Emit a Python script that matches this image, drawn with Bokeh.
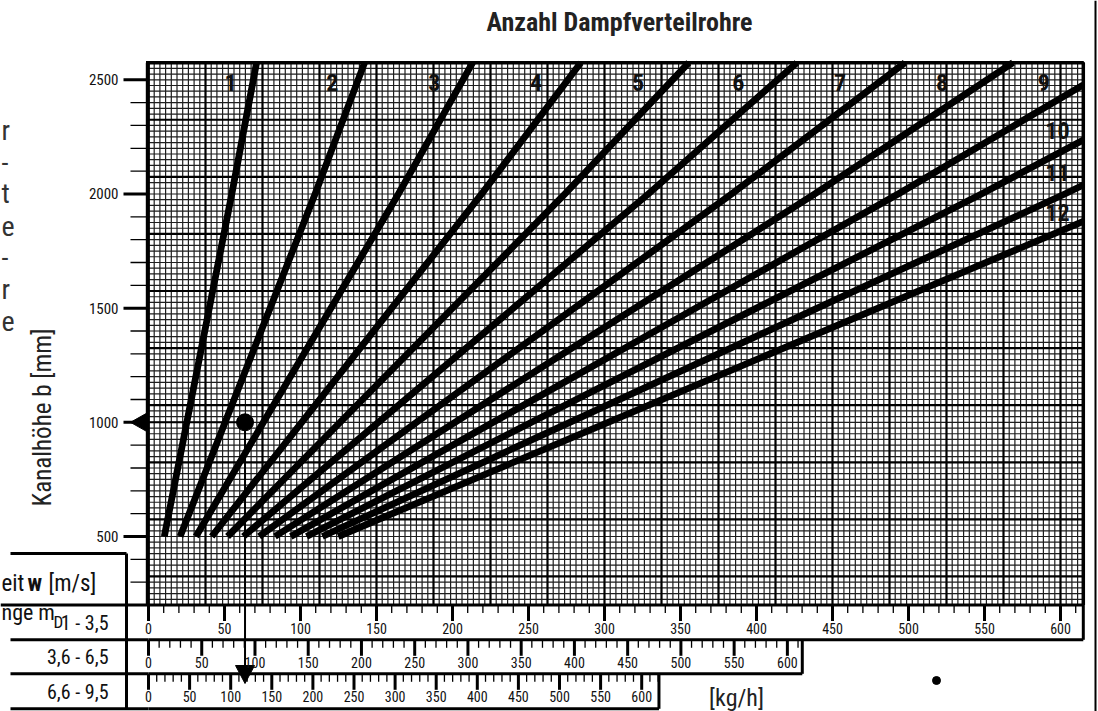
import numpy as np
from bokeh.plotting import figure
from bokeh.models import Range1d
from bokeh.core.properties import value
from bokeh.embed import file_html
from bokeh.resources import INLINE

# ---------------- data ----------------
title_text = "Anzahl Dampfverteilrohre"
y_axis_title = "Kanalhöhe b [mm]"
unit_text = "[kg/h]"
row_labels = ["1 - 3,5", "3,6 - 6,5", "6,6 - 9,5"]
curve_names = ["1", "2", "3", "4", "5", "6", "7", "8", "9", "10", "11", "12"]

# channel height b [mm] at which the steam mass of each curve was read
b_mm = [500, 1000, 1500, 2000, 2600]
# steam mass m_D [kg/h] (scale 1 - 3,5 m/s) per number of distributor pipes
m_1 = [10.4, 25.2, 40.0, 54.8, 71.8]
m_2 = [20.8, 50.4, 80.0, 109.6, 143.6]
m_3 = [31.2, 75.6, 120.0, 164.4, 215.4]
m_4 = [41.6, 100.8, 160.0, 219.2, 287.2]
m_5 = [52.0, 126.0, 200.0, 274.0, 359.0]
m_6 = [62.4, 151.2, 240.0, 328.8, 430.8]
m_7 = [72.8, 176.4, 280.0, 383.6, 502.6]
m_8 = [83.2, 201.6, 320.0, 438.4, 574.4]
m_9 = [93.6, 226.8, 360.0, 493.2, 646.2]
m_10 = [104.0, 252.0, 400.0, 548.0, 718.0]
m_11 = [114.4, 277.2, 440.0, 602.8, 789.8]
m_12 = [124.8, 302.4, 480.0, 657.6, 861.6]
curves_m = [m_1, m_2, m_3, m_4, m_5, m_6, m_7, m_8, m_9, m_10, m_11, m_12]

y_ticks_major = [500, 1000, 1500, 2000, 2500]
y_ticks_minor = [300, 400, 600, 700, 800, 900, 1100, 1200, 1300, 1400, 1600, 1700,
                 1800, 1900, 2100, 2200, 2300, 2400]
scale_major = [0, 50, 100, 150, 200, 250, 300, 350, 400, 450, 500, 550, 600]
scale_minor_step = 10
scale_end = [615, 614, 621]          # end of each ruler in its own kg/h units

example_b = 1000     # example duct height
example_m = 63.5     # example steam mass on the 1 - 3,5 scale

# ---------------- layout helpers (screen px -> data) ----------------
PX_PER_U1 = 1.52      # ruler 1 - 3,5
PX_PER_U2 = 1.0648    # ruler 3,6 - 6,5
PX_PER_U3 = 0.822     # ruler 6,6 - 9,5
X0 = 148.0
PX_PER_MM = 0.22835
Y500 = 536.0

def ux(px):
    return (px - X0) / PX_PER_U1

def by(py):
    return 500.0 - (py - Y500) / PX_PER_MM

W, H = 1098, 711
FONT = "Roboto Condensed"

p = figure(width=W, height=H, x_range=Range1d(ux(0), ux(W)), y_range=Range1d(by(H), by(0)),
           output_backend="svg", toolbar_location=None, min_border=0,
           x_axis_location=None, y_axis_location=None, outline_line_color=None,
           background_fill_color="white", border_fill_color="white")
p.extra_x_ranges = {
    "r2": Range1d((0 - X0) / PX_PER_U2, (W - X0) / PX_PER_U2),
    "r3": Range1d((0 - X0) / PX_PER_U3, (W - X0) / PX_PER_U3),
}
for g in p.grid:
    g.visible = False

# ---------------- millimetre paper grid ----------------
GX_MAX = 615.0
GY_MIN, GY_MAX = 200.0, 2575.0
gx = np.arange(0, GX_MAX + 0.01, 3.75)
gy = np.arange(GY_MIN, GY_MAX + 0.01, 25.0)
gx_minor = [v for i, v in enumerate(gx) if i % 10 != 0]
gx_major = [v for i, v in enumerate(gx) if i % 10 == 0]
gy_minor = [v for v in gy if abs(((GY_MAX - v) / 250.0) - round((GY_MAX - v) / 250.0)) > 1e-6]
gy_major = [v for v in gy if abs(((GY_MAX - v) / 250.0) - round((GY_MAX - v) / 250.0)) <= 1e-6]

p.segment(x0=gx_minor, y0=[GY_MIN] * len(gx_minor), x1=gx_minor, y1=[GY_MAX] * len(gx_minor),
          line_color="#1e1e1e", line_width=1.2)
p.segment(x0=[0] * len(gy_minor), y0=gy_minor, x1=[GX_MAX] * len(gy_minor), y1=gy_minor,
          line_color="#1e1e1e", line_width=1.2)
p.segment(x0=gx_major, y0=[GY_MIN] * len(gx_major), x1=gx_major, y1=[GY_MAX] * len(gx_major),
          line_color="black", line_width=2.2)
p.segment(x0=[0] * len(gy_major), y0=gy_major, x1=[GX_MAX] * len(gy_major), y1=gy_major,
          line_color="black", line_width=2.2)

# ---------------- curves ----------------
def clip_curve(ms, bs, umax, bmax):
    xs, ys = [ms[0]], [bs[0]]
    for i in range(1, len(ms)):
        m1, b1 = ms[i], bs[i]
        if m1 <= umax and b1 <= bmax:
            xs.append(m1)
            ys.append(b1)
            continue
        m0, b0 = xs[-1], ys[-1]
        t = 1.0
        if m1 > umax:
            t = min(t, (umax - m0) / (m1 - m0))
        if b1 > bmax:
            t = min(t, (bmax - b0) / (b1 - b0))
        xs.append(m0 + t * (m1 - m0))
        ys.append(b0 + t * (b1 - b0))
        break
    return xs, ys

for ms in curves_m:
    xs, ys = clip_curve(ms, b_mm, GX_MAX, GY_MAX)
    p.line(xs, ys, line_color="black", line_width=6.8, line_cap="butt", line_join="round")

# curve numbers
label_m = [54, 121, 188, 255, 322, 388, 455, 522, 589, 598, 598, 598]
label_b = [2490] * 9 + [2278, 2095, 1920]
p.text(x=label_m, y=label_b, text=curve_names, text_font=value(FONT), text_font_size="24px",
       text_font_style="bold", text_align="center", text_baseline="middle", text_color="#111")

# plot border
p.line([ux(147.3)] * 2, [GY_MIN, GY_MAX], line_color="black", line_width=4)
p.line([ux(145.5), GX_MAX, GX_MAX], [GY_MAX, GY_MAX, GY_MIN], line_color="black", line_width=3.5)

# ---------------- y axis ticks and labels ----------------
p.segment(x0=[ux(123)] * len(y_ticks_major), y0=y_ticks_major,
          x1=[ux(146)] * len(y_ticks_major), y1=y_ticks_major, line_color="black", line_width=3)
p.segment(x0=[ux(130)] * len(y_ticks_minor), y0=y_ticks_minor,
          x1=[ux(146)] * len(y_ticks_minor), y1=y_ticks_minor, line_color="black", line_width=1.3)
p.text(x=[ux(118)] * len(y_ticks_major), y=y_ticks_major, text=[str(v) for v in y_ticks_major],
       text_font=value(FONT), text_font_size="15px", text_align="right", text_baseline="middle",
       text_color="#111")
p.text(x=[ux(42)], y=[by(417)], text=[y_axis_title], angle=np.pi / 2, text_font=value(FONT),
       text_font_size="25px", text_align="center", text_baseline="middle", text_color="#222")

# ---------------- example reading ----------------
p.line([ux(134), example_m], [example_b, example_b], line_color="black", line_width=2)
p.patch([ux(130), ux(146), ux(146)], [example_b, example_b + 9 / PX_PER_MM, example_b - 9 / PX_PER_MM],
        color="black")
p.line([example_m, example_m], [example_b, by(668)], line_color="black", line_width=2)
p.patch([example_m - 9.5 / PX_PER_U1, example_m + 9.5 / PX_PER_U1, example_m],
        [by(665), by(665), by(683)], color="black")
p.scatter([example_m], [example_b], size=17, color="black")

# ---------------- scale rows ----------------
row_tops = [604.5, 639.3, 673.3]
row_bottoms = [639.3, 673.3, 708.3]
range_names = ["default", "r2", "r3"]
for k in range(3):
    rn = range_names[k]
    top, bot = by(row_tops[k]), by(row_bottoms[k])
    minors = [v for v in range(0, scale_end[k], scale_minor_step) if v % 50 != 0]
    p.segment(x0=minors, y0=[top] * len(minors), x1=minors, y1=[by(row_tops[k] + 8)] * len(minors),
              line_color="black", line_width=1.3, x_range_name=rn)
    p.segment(x0=scale_major, y0=[top] * len(scale_major), x1=scale_major,
              y1=[by(row_tops[k] + 16)] * len(scale_major), line_color="black", line_width=3,
              x_range_name=rn)
    p.text(x=scale_major, y=[by(row_tops[k] + 23)] * len(scale_major),
           text=[str(v) for v in scale_major], text_font=value(FONT), text_font_size="14px",
           text_align="center", text_baseline="middle", text_color="#111", x_range_name=rn)
    # right end of the ruler box
    p.line([scale_end[k], scale_end[k]], [top, bot], line_color="black", line_width=3,
           x_range_name=rn)
    # bottom line of the row
    p.line([0, scale_end[k]], [bot, bot], line_color="black", line_width=3, x_range_name=rn)
    p.line([ux(10), 0], [bot, bot], line_color="black", line_width=3)

# top line of row 1 and left label box
p.line([ux(0), GX_MAX], [by(604.5), by(604.5)], line_color="black", line_width=3)
p.line([ux(10), ux(126)], [by(553), by(553)], line_color="black", line_width=3)
p.line([ux(126), ux(126)], [by(553), by(708.3)], line_color="black", line_width=3)

row_label_y = [622, 656.5, 691.5]
p.text(x=[ux(108)] * 3, y=[by(v) for v in row_label_y], text=row_labels, text_font=value(FONT),
       text_font_size="20px", text_align="right", text_baseline="middle", text_color="#111")

# header text of the label box (line ends of the original wording)
p.text(x=[ux(1)], y=[by(583)], text=["eit"], text_font=value(FONT), text_font_size="23px",
       text_align="left", text_baseline="alphabetic", text_color="#111")
p.text(x=[ux(27)], y=[by(583)], text=["w"], text_font=value(FONT), text_font_size="23px",
       text_font_style="bold", text_align="left", text_baseline="alphabetic", text_color="#111")
p.text(x=[ux(48)], y=[by(583)], text=["[m/s]"], text_font=value(FONT), text_font_size="23px",
       text_align="left", text_baseline="alphabetic", text_color="#111")
p.text(x=[ux(1)], y=[by(612)], text=["nge m"], text_font=value(FONT), text_font_size="22px",
       text_align="left", text_baseline="alphabetic", text_color="#111")
p.text(x=[ux(53)], y=[by(621)], text=["D"], text_font=value(FONT), text_font_size="17px",
       text_align="left", text_baseline="alphabetic", text_color="#111")

# unit label and stray dot
p.text(x=[ux(736)], y=[by(697)], text=[unit_text], text_font=value(FONT), text_font_size="24px",
       text_align="center", text_baseline="middle", text_color="#222")
p.scatter([ux(936)], [by(680)], size=8, color="black")

# ---------------- title and side text ----------------
p.text(x=[ux(619)], y=[by(21)], text=[title_text], text_font=value(FONT), text_font_size="26px",
       text_font_style="bold", text_align="center", text_baseline="middle", text_color="#222")

side_chars = ["r", "-", "t", "e", "-", "r", "e"]
side_base = [130, 161.7, 193.4, 225, 256.8, 288.5, 320.2]
p.text(x=[ux(1)] * len(side_chars), y=[by(v) for v in side_base], text=side_chars,
       text_font=value(FONT), text_font_size="28px", text_align="left",
       text_baseline="alphabetic", text_color="#333")

# page border on the right
p.line([ux(1095), ux(1095)], [by(0), by(711)], line_color="black", line_width=2)

open("out.html", "w").write(file_html(p, INLINE))
